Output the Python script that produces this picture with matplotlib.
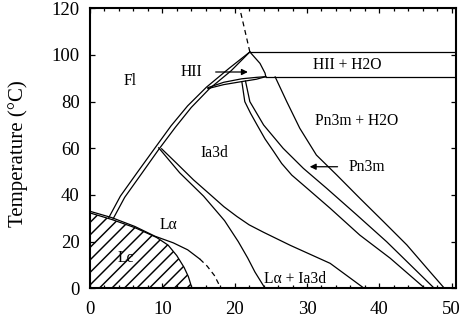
import numpy as np
import matplotlib
matplotlib.use("Agg")
import matplotlib.pyplot as plt
from matplotlib.ticker import MultipleLocator

plt.rcParams['font.family'] = ['Liberation Serif', 'DejaVu Serif']
plt.rcParams['hatch.linewidth'] = 0.7

DPI = 150
X_MAX = 50.6

# phase boundaries: water (wt%) vs temperature (°C)

# Fl / Lalpha / Ia3d boundary, drawn as a double line
fl_outer_x = [2.6, 4.2, 6.5, 8.9, 11.2, 13.5, 16.1, 19.2, 22.1]
fl_outer_t = [30.3, 39.5, 49.5, 59.8, 69.6, 78.2, 86.2, 94.2, 101.3]
fl_inner_x = [3.2, 4.8, 7.1, 9.5, 11.8, 14.0, 16.5, 19.5, 22.1]
fl_inner_t = [29.8, 39.0, 49.0, 59.5, 69.0, 77.5, 85.5, 93.2, 101.3]

# Lalpha lower boundary (solid, then dashed)
la_low_x = [0, 3.0, 6.2, 9.0, 11.5, 13.5, 15.2]
la_low_t = [33.0, 30.3, 26.5, 22.3, 19.5, 16.5, 12.5]
la_dash_x = [15.2, 16.2, 17.2, 18.1]
la_dash_t = [12.5, 9.5, 5.5, 0]

# Lc (hatched) region edge
lc_x = [0, 3.0, 6.2, 9.2, 10.8, 12.0, 13.0, 13.6, 14.1]
lc_t = [32.3, 29.5, 26.0, 21.8, 18.5, 14.0, 9.0, 5.0, 0]

# Lalpha + Ia3d two-phase region
ia_lo1_x = [9.5, 12.4, 15.7, 18.6, 20.5, 21.8, 22.8, 24.2]
ia_lo1_t = [60.2, 49.5, 39.5, 29.0, 20.0, 13.0, 7.0, 0]
ia_lo2_x = [9.9, 12.0, 14.3, 16.5, 18.5, 20.3, 22.0, 24.0, 27.7, 33.2, 37.9]
ia_lo2_t = [59.8, 53.5, 46.5, 40.5, 35.0, 30.8, 27.2, 24.0, 18.4, 10.7, 0]

# Ia3d / Pn3m / Pn3m + H2O lines
pa_x = [21.0, 21.4, 22.2, 23.1, 24.2, 25.4, 26.5, 27.9, 30.0, 33.2, 37.3, 41.5, 46.3]
pa_t = [88.4, 80.0, 75.0, 70.0, 64.0, 58.6, 53.5, 48.5, 42.9, 34.3, 22.8, 12.9, 0]
pb_x = [21.5, 22.1, 24.0, 26.7, 29.5, 32.7, 36.9, 41.0, 44.3, 47.6]
pb_t = [88.8, 80.0, 70.0, 60.0, 51.4, 42.9, 31.4, 20.0, 10.0, 0]
pc_x = [25.6, 27.2, 29.0, 31.3, 34.1, 37.3, 40.6, 43.8, 47.0, 49.0]
pc_t = [90.6, 80.0, 68.6, 57.1, 48.6, 38.6, 28.5, 18.6, 7.1, 0]

# HII region
hii_bot1_x = [16.3, 18.5, 21.0, 23.0, 24.3]
hii_bot1_t = [86.0, 88.3, 89.8, 90.4, 90.7]
hii_bot2_x = [16.3, 18.5, 21.0, 23.0, 24.3]
hii_bot2_t = [85.6, 87.3, 88.6, 89.6, 90.7]
hii_right_x = [22.1, 23.5, 24.2, 24.3]
hii_right_t = [101.3, 96.4, 92.2, 90.7]
hii_dash_x = [22.1, 21.4, 20.7]
hii_dash_t = [101.3, 110.7, 120.0]

# horizontal HII + H2O band
band_top_x, band_top_t = [22.1, X_MAX], [101.3, 101.3]
band_bot_x, band_bot_t = [24.3, X_MAX], [90.7, 90.7]

fig = plt.figure(figsize=(463 / DPI, 327 / DPI), dpi=DPI)
ax = fig.add_axes([90 / 463, 1 - 288.3 / 327, (456 - 90) / 463, (288.3 - 8.3) / 327])

lw = 0.6
k = "black"

# hatched Lc region
ax.fill(lc_x + [0], lc_t + [0], facecolor="none", edgecolor=k, hatch="////", lw=0)
ax.plot(lc_x, lc_t, color=k, lw=lw)

ax.plot(la_low_x, la_low_t, color=k, lw=lw)
ax.plot(la_dash_x, la_dash_t, color=k, lw=lw, linestyle=(0, (4, 3)))

ax.plot(fl_outer_x, fl_outer_t, color=k, lw=lw)
ax.plot(fl_inner_x, fl_inner_t, color=k, lw=lw)

ax.plot(ia_lo1_x, ia_lo1_t, color=k, lw=lw)
ax.plot(ia_lo2_x, ia_lo2_t, color=k, lw=lw)

for xs, ts in [(pa_x, pa_t), (pb_x, pb_t), (pc_x, pc_t)]:
    ax.plot(xs, ts, color=k, lw=lw)

ax.plot(hii_bot1_x, hii_bot1_t, color=k, lw=lw)
ax.plot(hii_bot2_x, hii_bot2_t, color=k, lw=lw)
ax.plot(hii_right_x, hii_right_t, color=k, lw=lw)
ax.plot(hii_dash_x, hii_dash_t, color=k, lw=lw, linestyle=(0, (4, 3)))
ax.plot(band_top_x, band_top_t, color=k, lw=lw)
ax.plot(band_bot_x, band_bot_t, color=k, lw=lw)

# region labels
fs = 7.5
ax.text(5.5, 89, "Fl", fontsize=fs, ha="center", va="center")
ax.text(14.0, 92.7, "HII", fontsize=fs, ha="center", va="center")
ax.annotate("", xy=(22.4, 92.7), xytext=(16.8, 92.7),
            arrowprops=dict(arrowstyle="-|>", color=k, lw=0.6, mutation_scale=6))
ax.text(35.6, 95.9, "HII + H2O", fontsize=fs, ha="center", va="center")
ax.text(36.9, 71.6, "Pn3m + H2O", fontsize=fs, ha="center", va="center")
ax.text(35.7, 52.1, "Pn3m", fontsize=fs, ha="left", va="center")
ax.annotate("", xy=(29.8, 52.1), xytext=(34.8, 52.1),
            arrowprops=dict(arrowstyle="-|>", color=k, lw=0.6, mutation_scale=6))
ax.text(17.2, 58.0, "Ia3d", fontsize=fs, ha="center", va="center")
ax.text(10.9, 27.3, "L\u03b1", fontsize=fs, ha="center", va="center")
ax.text(4.9, 13.0, "Lc", fontsize=fs, ha="center", va="center")
ax.text(28.4, 3.9, "L\u03b1 + Ia3d", fontsize=fs, ha="center", va="center")

ax.set_xlim(0, X_MAX)
ax.set_ylim(0, 120)
ax.xaxis.set_major_locator(MultipleLocator(10))
ax.xaxis.set_minor_locator(MultipleLocator(2))
ax.yaxis.set_major_locator(MultipleLocator(20))
ax.tick_params(which="both", direction="in", top=True, right=True, width=0.6)
ax.tick_params(which="major", length=2.6)
ax.tick_params(which="minor", length=1.4)
ax.tick_params(axis="x", labelsize=9, pad=6)
ax.tick_params(axis="y", labelsize=9, pad=5)
for s in ax.spines.values():
    s.set_linewidth(1.0)

ax.set_ylabel("Temperature (\u00b0C)", fontsize=10)
ax.yaxis.set_label_coords(-0.17, 0.481)

fig.savefig("out.png", dpi=DPI)
